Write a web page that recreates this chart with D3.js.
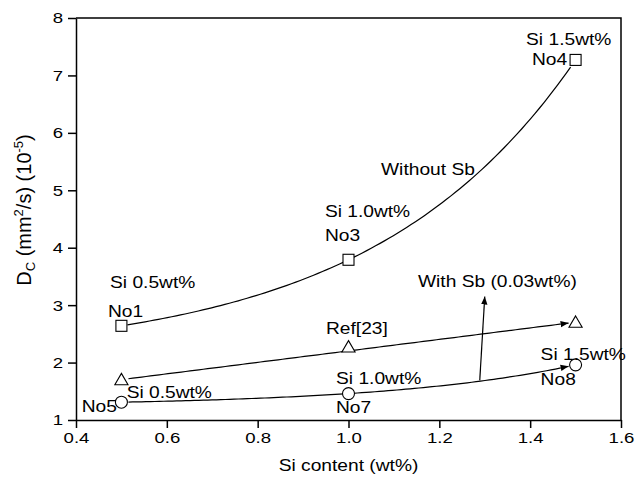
<!DOCTYPE html>
<html>
<head>
<meta charset="utf-8">
<script src="https://cdn.jsdelivr.net/npm/d3@7/dist/d3.min.js"></script>
<style>
  html, body { margin: 0; padding: 0; background: #fff; }
  svg { display: block; }
  text { font-family: "Liberation Sans", Arial, sans-serif; fill: #000; }
</style>
</head>
<body>
<svg id="chart" width="641" height="481"></svg>
<script>
// Si content of the samples (wt%)
const siContent = [0.5, 1.0, 1.5];
// Carbon diffusivity D_C (mm^2/s, x10^-5)
const dcWithoutSb = [2.64, 3.79, 7.27];   // No1, No3, No4
const dcRef23     = [1.68, 2.25, 2.68];   // Ref[23]
const dcWithSb    = [1.31, 1.46, 1.96];   // No5, No7, No8

const xMajorTicks = [0.4, 0.6, 0.8, 1.0, 1.2, 1.4, 1.6];
const xTickLabels = ["0.4", "0.6", "0.8", "1.0", "1.2", "1.4", "1.6"];
const yMajorTicks = [1, 2, 3, 4, 5, 6, 7, 8];
const yTickLabels = ["1", "2", "3", "4", "5", "6", "7", "8"];

const W = 641, H = 481;
const plot = { left: 76, right: 621, top: 18, bottom: 420 };
const TEXT_SX = 1.2;   // horizontal widening of the lettering

const svg = d3.select("#chart");
svg.append("rect").attr("width", W).attr("height", H).attr("fill", "#fff");

const x = d3.scaleLinear().domain([0.4, 1.6]).range([plot.left, plot.right]);
const y = d3.scaleLinear().domain([1, 8]).range([plot.bottom, plot.top]);

// frame (top and right edges)
svg.append("path")
  .attr("d", `M${plot.left},${plot.top}H${plot.right}V${plot.bottom}`)
  .attr("fill", "none").attr("stroke", "#000").attr("stroke-width", 1.5);

// minor ticks
const xMinor = d3.range(0.5, 1.6, 0.2).map(v => +v.toFixed(2));
const yMinor = d3.range(1.5, 8, 1);

const gx = svg.append("g").attr("transform", `translate(0,${plot.bottom})`);
gx.call(d3.axisBottom(x).tickValues(xMinor).tickSize(4).tickSizeOuter(0).tickFormat(""));
gx.call(d3.axisBottom(x).tickValues(xMajorTicks).tickSize(8).tickSizeOuter(0)
  .tickFormat((d, i) => xTickLabels[i]).tickPadding(4));
const gy = svg.append("g").attr("transform", `translate(${plot.left},0)`);
gy.call(d3.axisLeft(y).tickValues(yMinor).tickSize(4).tickSizeOuter(0).tickFormat(""));
gy.call(d3.axisLeft(y).tickValues(yMajorTicks).tickSize(8).tickSizeOuter(0)
  .tickFormat((d, i) => yTickLabels[i]).tickPadding(5));

[gx, gy].forEach(g => {
  g.selectAll("path.domain").attr("stroke", "#000").attr("stroke-width", 1.5);
  g.selectAll(".tick line").attr("stroke", "#000").attr("stroke-width", 1.5);
  g.selectAll(".tick text").attr("font-size", 15.5).attr("fill", "#000")
    .attr("font-family", "Liberation Sans, Arial, sans-serif");
});
gx.selectAll(".tick text").attr("transform", `scale(${TEXT_SX},1)`);
gy.selectAll(".tick text").attr("transform", `scale(${TEXT_SX},1)`).attr("x", -13 / TEXT_SX);

// axis titles
svg.append("text")
  .attr("transform", `translate(${(plot.left + plot.right) / 2},471) scale(${TEXT_SX},1)`)
  .attr("text-anchor", "middle").attr("font-size", 16)
  .text("Si content (wt%)");

const yTitle = svg.append("text")
  .attr("transform", `translate(31,210) rotate(-90)`)
  .attr("text-anchor", "middle").attr("font-size", 20);
yTitle.append("tspan").text("D");
yTitle.append("tspan").attr("font-size", 13).attr("dy", 4).text("C");
yTitle.append("tspan").attr("dy", -4).text(" (mm");
yTitle.append("tspan").attr("font-size", 13).attr("dy", -8).text("2");
yTitle.append("tspan").attr("dy", 8).text("/s) (10");
yTitle.append("tspan").attr("font-size", 13).attr("dy", -8).text("-5");
yTitle.append("tspan").attr("dy", 8).text(")");

// fitted curve y = a + b * r^((x - x0)/h) through the three samples
function expFit(xs, ys) {
  const h = xs[1] - xs[0];
  const d1 = ys[1] - ys[0], d2 = ys[2] - ys[1];
  const r = d2 / d1;
  const b = d1 / (r - 1), a = ys[0] - b;
  return v => a + b * Math.pow(r, (v - xs[0]) / h);
}
function linFit(xs, ys) {
  const mx = d3.mean(xs), my = d3.mean(ys);
  const s = d3.sum(xs, (v, i) => (v - mx) * (ys[i] - my)) / d3.sum(xs, v => (v - mx) ** 2);
  return v => my + s * (v - mx);
}

const defs = svg.append("defs");
defs.append("marker").attr("id", "arrow")
  .attr("viewBox", "0 0 10 10").attr("refX", 10).attr("refY", 5)
  .attr("markerWidth", 8).attr("markerHeight", 8).attr("markerUnits", "userSpaceOnUse")
  .attr("orient", "auto")
  .append("path").attr("d", "M0,1L10,5L0,9Z").attr("fill", "#000");

const line = d3.line().x(d => d[0]).y(d => d[1]);
function drawFit(fn, trimStart, trimEnd, arrow) {
  const x0 = x.invert(x(siContent[0]) + trimStart);
  const x1 = x.invert(x(siContent[2]) - trimEnd);
  const pts = d3.range(0, 101).map(i => {
    const v = x0 + (x1 - x0) * i / 100;
    return [x(v), y(fn(v))];
  });
  const p = svg.append("path").attr("d", line(pts))
    .attr("fill", "none").attr("stroke", "#000").attr("stroke-width", 1.2);
  if (arrow) p.attr("marker-end", "url(#arrow)");
}
drawFit(expFit(siContent, dcWithoutSb), 6, 5, false);
drawFit(linFit(siContent, dcRef23), 7, 7, true);
drawFit(expFit(siContent, dcWithSb), 7, 7, true);

// arrow marking the effect of the Sb addition
const sbArrow = { from: [1.289, 1.69], to: [1.300, 3.15] };
svg.append("line")
  .attr("x1", x(sbArrow.from[0])).attr("y1", y(sbArrow.from[1]))
  .attr("x2", x(sbArrow.to[0])).attr("y2", y(sbArrow.to[1]))
  .attr("stroke", "#000").attr("stroke-width", 1.2).attr("marker-end", "url(#arrow)");

// markers
const mk = svg.append("g").attr("fill", "#fff").attr("stroke", "#000").attr("stroke-width", 1.1);
mk.selectAll("rect").data(siContent).join("rect")
  .attr("x", (d) => x(d) - 5.5).attr("y", (d, i) => y(dcWithoutSb[i]) - 5.5)
  .attr("width", 11).attr("height", 11);
const tri = d3.symbol().type(d3.symbolTriangle).size(75);
mk.selectAll("path.tri").data(siContent).join("path").attr("class", "tri")
  .attr("d", tri)
  .attr("transform", (d, i) => `translate(${x(d)},${y(dcRef23[i])})`);
mk.selectAll("circle").data(siContent).join("circle")
  .attr("cx", d => x(d)).attr("cy", (d, i) => y(dcWithSb[i])).attr("r", 6);

// annotations, positioned in data coordinates (left edge, baseline)
const notes = [
  ["Si 1.5wt%", 1.391, 7.53],
  ["No4", 1.404, 7.18],
  ["Without Sb", 1.0716, 5.27],
  ["Si 1.0wt%", 0.948, 4.535],
  ["No3", 0.948, 4.117],
  ["Si 0.5wt%", 0.4749, 3.30],
  ["No1", 0.4705, 2.79],
  ["Ref[23]", 0.9505, 2.50],
  ["With Sb (0.03wt%)", 1.153, 3.316],
  ["Si 0.5wt%", 0.5115, 1.378],
  ["No5", 0.4125, 1.145],
  ["Si 1.0wt%", 0.9725, 1.627],
  ["No7", 0.9725, 1.127],
  ["Si 1.5wt%", 1.423, 2.045],
  ["No8", 1.423, 1.609]
];
svg.append("g").selectAll("text").data(notes).join("text")
  .attr("transform", d => `translate(${x(d[1])},${y(d[2])}) scale(${TEXT_SX},1)`)
  .attr("font-size", 16)
  .text(d => d[0]);
</script>
</body>
</html>
